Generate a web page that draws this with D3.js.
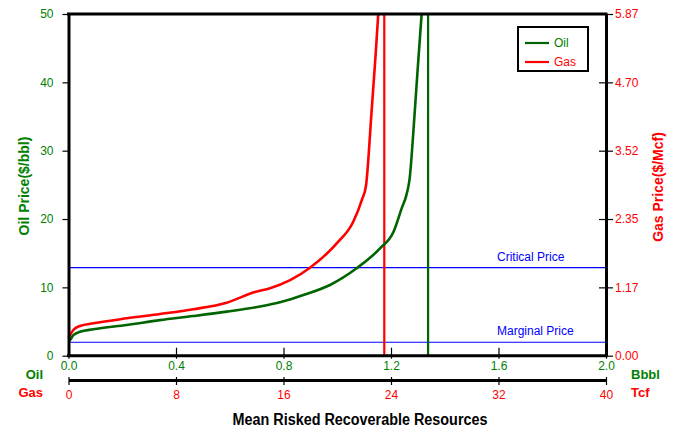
<!DOCTYPE html>
<html>
<head>
<meta charset="utf-8">
<script src="https://cdn.jsdelivr.net/npm/d3@7/dist/d3.min.js"></script>
<style>
  html, body { margin: 0; padding: 0; background: #fff; }
  svg { display: block; font-family: Arial, "Liberation Sans", sans-serif; }
</style>
</head>
<body>
<svg id="chart" width="683" height="435"></svg>
<script>
// ---------- data ----------
const oilResource = [0, 0.0056, 0.018, 0.043, 0.092, 0.217, 0.340, 0.464, 0.589, 0.713, 0.790, 0.874, 0.973, 1.072, 1.159, 1.209, 1.240, 1.258, 1.269, 1.287, 1.299, 1.314];
const oilPrice    = [2.15, 2.3, 3.0, 3.5, 3.86, 4.5, 5.2, 5.8, 6.45, 7.2, 7.85, 8.88, 10.35, 12.79, 15.7, 18.1, 21.6, 23.6, 25.8, 34.9, 41.8, 50];

const gasResource = [0, 0.11, 0.36, 0.86, 1.85, 4.33, 6.81, 9.29, 11.77, 13.88, 15.0, 17.97, 19.96, 21.19, 21.82, 22.14, 22.31, 22.51, 22.68, 22.87, 23.05];
const gasPrice    = [0.305, 0.352, 0.441, 0.511, 0.556, 0.642, 0.716, 0.798, 0.911, 1.095, 1.158, 1.51, 1.93, 2.30, 2.67, 2.92, 3.36, 4.05, 4.60, 5.22, 5.87];

const oilLimit = 1.338;      // Bbbl (vertical green line)
const gasLimit = 23.5;       // Tcf (vertical red line)
const criticalPrice = 12.88; // $/bbl
const marginalPrice = 1.97;  // $/bbl

const oilPriceTicks = [0, 10, 20, 30, 40, 50];
const gasPriceTicks = [0, 1.174, 2.348, 3.522, 4.696, 5.87];
const oilResTicks = [0, 0.4, 0.8, 1.2, 1.6, 2.0];
const gasResTicks = [0, 8, 16, 24, 32, 40];

const legendItems = ["Oil", "Gas"];

// ---------- layout ----------
const GREEN = "#006400", GREEN_TXT = "#008000", RED = "#ff0000", BLUE = "#0000ff";
const L = 68.5, R = 606, T = 14, B = 355.7, B2 = 380;

const svg = d3.select("#chart");

const xOil = d3.scaleLinear().domain([0, 2]).range([L, R]);
const xGas = d3.scaleLinear().domain([0, 40]).range([L, R]);
const yOil = d3.scaleLinear().domain([0, 50]).range([B, T]);
const yGas = d3.scaleLinear().domain([0, 5.87]).range([B, T]);

// reference lines
const refs = [
  {v: criticalPrice, label: "Critical Price"},
  {v: marginalPrice, label: "Marginal Price"}
];
svg.selectAll(".ref").data(refs).join("line")
  .attr("x1", L).attr("x2", R)
  .attr("y1", d => yOil(d.v)).attr("y2", d => yOil(d.v))
  .attr("stroke", BLUE).attr("stroke-width", 1.2);
svg.selectAll(".reftxt").data(refs).join("text")
  .attr("x", 497).attr("y", d => yOil(d.v) - 7)
  .attr("fill", BLUE).attr("font-size", 12)
  .text(d => d.label);

// vertical limit lines
svg.append("line").attr("x1", xGas(gasLimit)).attr("x2", xGas(gasLimit))
  .attr("y1", T).attr("y2", B).attr("stroke", RED).attr("stroke-width", 2.2);
svg.append("line").attr("x1", xOil(oilLimit)).attr("x2", xOil(oilLimit))
  .attr("y1", T).attr("y2", B).attr("stroke", GREEN).attr("stroke-width", 2.2);

// curves
const oilLine = d3.line().x(d => xOil(d[0])).y(d => yOil(d[1])).curve(d3.curveMonotoneX);
const gasLine = d3.line().x(d => xGas(d[0])).y(d => yGas(d[1])).curve(d3.curveMonotoneX);
svg.append("path").datum(gasResource.map((v, i) => [v, gasPrice[i]]))
  .attr("d", gasLine).attr("fill", "none").attr("stroke", RED).attr("stroke-width", 2.6)
  .attr("stroke-linejoin", "round");
svg.append("path").datum(oilResource.map((v, i) => [v, oilPrice[i]]))
  .attr("d", oilLine).attr("fill", "none").attr("stroke", GREEN).attr("stroke-width", 2.6)
  .attr("stroke-linejoin", "round");

// frame top
svg.append("line").attr("x1", L - 1.5).attr("x2", R + 1.5).attr("y1", T).attr("y2", T)
  .attr("stroke", "#000").attr("stroke-width", 3);

// axes
function styleAxis(g, color, width) {
  g.select(".domain").attr("stroke", "#000").attr("stroke-width", width);
  g.selectAll(".tick line").attr("stroke", "#000").attr("stroke-width", 1.2);
  g.selectAll(".tick text").attr("fill", color).attr("font-size", 12)
    .attr("font-family", "Arial, 'Liberation Sans', sans-serif");
}

const gLeft = svg.append("g").attr("transform", `translate(${L},0)`)
  .call(d3.axisLeft(yOil).tickValues(oilPriceTicks).tickSizeInner(6).tickSizeOuter(0).tickPadding(9));
styleAxis(gLeft, GREEN_TXT, 3);

const gRight = svg.append("g").attr("transform", `translate(${R},0)`)
  .call(d3.axisRight(yGas).tickValues(gasPriceTicks).tickFormat(d3.format(".2f")).tickSizeInner(7).tickSizeOuter(0).tickPadding(2));
styleAxis(gRight, RED, 3);
gRight.selectAll(".tick line").attr("x1", -7);
gRight.selectAll(".tick").filter(d => d === 0 || d === 5.87).select("line").attr("x1", 0);

const gBottom = svg.append("g").attr("transform", `translate(0,${B})`)
  .call(d3.axisBottom(xOil).tickValues(oilResTicks).tickFormat(d3.format(".1f")).tickSizeInner(3).tickSizeOuter(0).tickPadding(3));
styleAxis(gBottom, GREEN_TXT, 3);
gBottom.selectAll(".tick line").attr("y1", -8);
gBottom.selectAll(".tick").filter(d => d === 0 || d === 2).select("line").attr("y1", 0);
gBottom.select(".domain").attr("d", `M${L - 1.5},0H${R + 1.5}`);

const gBottom2 = svg.append("g").attr("transform", `translate(0,${B2})`)
  .call(d3.axisBottom(xGas).tickValues(gasResTicks).tickFormat(d3.format("d")).tickSizeInner(5).tickSizeOuter(0).tickPadding(5));
styleAxis(gBottom2, RED, 3);
gBottom2.selectAll(".tick line").attr("y1", -3);

// unit labels
const unit = [
  {t: "Oil", x: 43, y: 374, a: "end", c: GREEN_TXT},
  {t: "Gas", x: 43, y: 392, a: "end", c: RED},
  {t: "Bbbl", x: 631, y: 374, a: "start", c: GREEN_TXT},
  {t: "Tcf", x: 631, y: 392, a: "start", c: RED}
];
svg.selectAll(".unit").data(unit).join("text")
  .attr("x", d => d.x).attr("y", d => d.y).attr("dy", "0.35em")
  .attr("text-anchor", d => d.a).attr("fill", d => d.c)
  .attr("font-size", 13).attr("font-weight", "bold").text(d => d.t);

// axis titles
svg.append("text").attr("transform", "translate(29,186) rotate(-90)")
  .attr("text-anchor", "middle").attr("fill", GREEN_TXT).attr("font-size", 14).attr("font-weight", "bold")
  .text("Oil Price($/bbl)");
svg.append("text").attr("transform", "translate(663,187) rotate(-90)")
  .attr("text-anchor", "middle").attr("fill", RED).attr("font-size", 14).attr("font-weight", "bold")
  .text("Gas Price($/Mcf)");
svg.append("text").attr("x", 360).attr("y", 425)
  .attr("text-anchor", "middle").attr("fill", "#000").attr("font-size", 16).attr("font-weight", "bold")
  .attr("textLength", 255).attr("lengthAdjust", "spacingAndGlyphs")
  .text("Mean Risked Recoverable Resources");

// legend
const lg = svg.append("g");
lg.append("rect").attr("x", 518).attr("y", 27).attr("width", 70).attr("height", 44)
  .attr("fill", "#fff").attr("stroke", "#000").attr("stroke-width", 2);
const lgColors = [GREEN, RED];
const lgText = [GREEN_TXT, RED];
legendItems.forEach((name, i) => {
  const y = 43 + i * 19;
  lg.append("line").attr("x1", 525).attr("x2", 549).attr("y1", y).attr("y2", y)
    .attr("stroke", lgColors[i]).attr("stroke-width", 2.2);
  lg.append("text").attr("x", 554).attr("y", y).attr("dy", "0.35em")
    .attr("fill", lgText[i]).attr("font-size", 12).text(name);
});
</script>
</body>
</html>
